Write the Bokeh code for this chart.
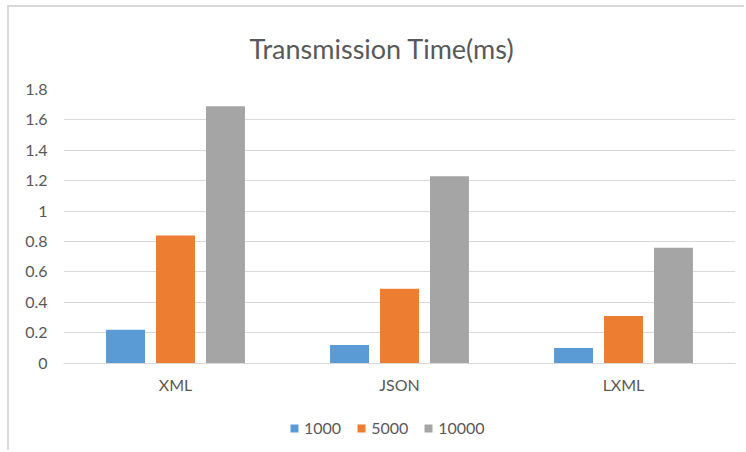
from bokeh.plotting import figure
from bokeh.models import (ColumnDataSource, FactorRange, Range1d, FixedTicker,
                          Legend, LegendItem)
from bokeh.transform import dodge
from bokeh.embed import file_html
from bokeh.resources import INLINE

# ---- data ----
categories = ["XML", "JSON", "LXML"]
series_names = ["1000", "5000", "10000"]
v1000 = [0.22, 0.12, 0.10]
v5000 = [0.84, 0.49, 0.31]
v10000 = [1.69, 1.23, 0.76]
y_tick_values = [0, 0.2, 0.4, 0.6, 0.8, 1.0, 1.2, 1.4, 1.6, 1.8]
y_tick_labels = ["0", "0.2", "0.4", "0.6", "0.8", "1", "1.2", "1.4", "1.6", "1.8"]
title_text = "Transmission Time(ms)"

colors = ["#5B9BD5", "#ED7D31", "#A5A5A5"]
FONT = "Lato"
TXT = "#595959"
GRID = "#D9D9D9"

# layout (pixels): frame spans from the 1.8 line down to the legend area;
# zero line sits 87 px above the frame bottom
px_per_unit = 276 / 1.8
y_start = -87 / px_per_unit

source = ColumnDataSource(dict(cat=categories, s1000=v1000, s5000=v5000, s10000=v10000))

p = figure(width=737, height=445, x_range=FactorRange(*categories, range_padding=0),
           y_range=Range1d(y_start, 1.8), output_backend="svg", toolbar_location=None,
           min_border_left=54, min_border_right=11, min_border_top=79, min_border_bottom=3)
p.styles = {"margin-left": "7px", "margin-top": "5px",
            "border-left": "2px solid #D9D9D9", "border-top": "2px solid #D9D9D9"}
p.outline_line_color = None
p.background_fill_color = "white"
p.border_fill_color = "white"

# title
p.title.text = title_text
p.title.align = "left"
p.title.offset = 186
p.title.standoff = 47
p.title.vertical_align = "middle"
p.title.text_font = FONT
p.title.text_font_size = "27px"
p.title.text_font_style = "normal"
p.title.text_color = TXT

offsets = [-0.223, 0.0, 0.223]
cols = ["s1000", "s5000", "s10000"]
renderers = []
for col, off, c in zip(cols, offsets, colors):
    r = p.vbar(x=dodge("cat", off, range=p.x_range), top=col, bottom=0, width=0.174,
               source=source, fill_color=c, line_color=None)
    renderers.append(r)

# axes
p.xgrid.grid_line_color = None
p.ygrid.grid_line_color = GRID
p.ygrid.grid_line_width = 1
p.yaxis.ticker = FixedTicker(ticks=y_tick_values)
p.yaxis.major_label_overrides = {v: l for v, l in zip(y_tick_values, y_tick_labels)}
for ax in (p.xaxis[0], p.yaxis[0]):
    ax.major_tick_line_color = None
    ax.minor_tick_line_color = None
    ax.major_tick_out = 0
    ax.major_tick_in = 0
    ax.major_label_text_font = FONT
    ax.major_label_text_font_size = "16px"
    ax.major_label_text_color = TXT
p.yaxis.axis_line_color = None
p.yaxis.major_label_standoff = 16
p.xaxis.fixed_location = 0
p.xaxis.axis_line_color = GRID
p.xaxis.axis_line_width = 1
p.xaxis.major_label_standoff = 12

# legend
items = [LegendItem(label=n, renderers=[r]) for n, r in zip(series_names, renderers)]
legend = Legend(items=items, orientation="horizontal", location=(226, 12),
                glyph_width=10, glyph_height=10, label_standoff=5, spacing=15,
                padding=0, margin=0, border_line_color=None, background_fill_alpha=0,
                label_text_font=FONT, label_text_font_size="16px", label_text_color=TXT)
p.add_layout(legend)

open("out.html", "w").write(file_html(p, INLINE))
